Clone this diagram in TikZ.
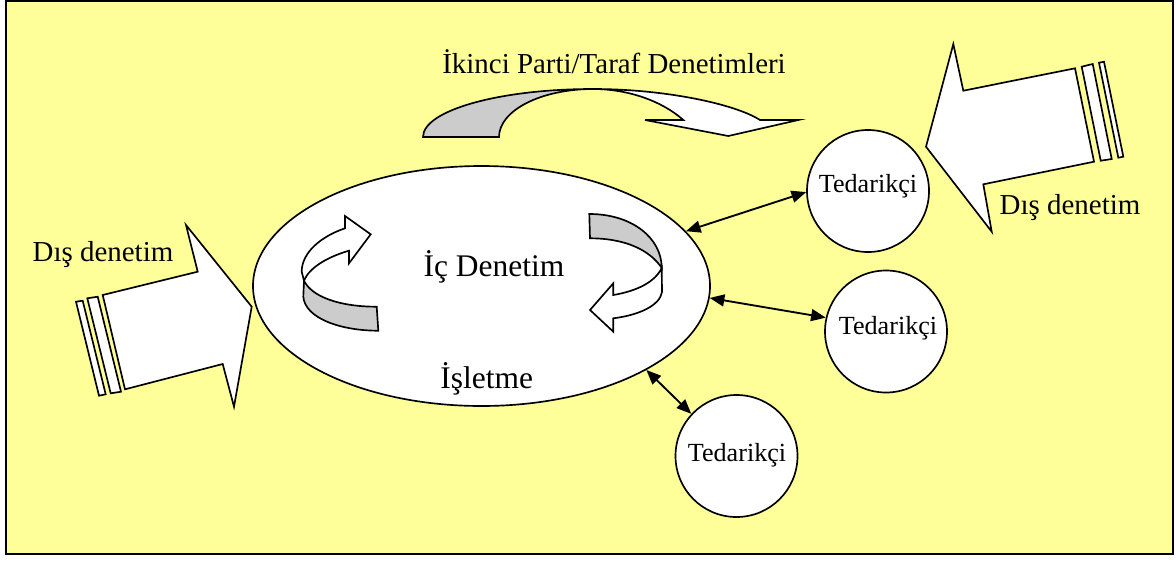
\documentclass[tikz,border=0pt]{standalone}
\usepackage{fontspec}
\setmainfont{Liberation Serif}
\usetikzlibrary{shapes.geometric,arrows.meta}
\definecolor{paper}{HTML}{FFFF99}
\definecolor{band}{HTML}{CCCCCC}
\newdimen\px \px=0.75pt
\begin{document}
\begin{tikzpicture}[x=0.75pt,y=-0.75pt,
  outl/.style={draw=black, line width=1.25pt, line join=miter},
  face/.style={outl, fill=white},
  back/.style={outl, fill=band},
  supplier/.style={circle, draw, line width=1.25pt, fill=white, minimum size=122\px, inner sep=0pt},
  link/.style={{Triangle[length=11pt,width=9pt]}-{Triangle[length=11pt,width=9pt]}, line width=1.4pt},
  lbl/.style={anchor=base, inner sep=0pt},
  big/.style={lbl, font=\fontsize{23.6}{28}\selectfont},
  mid/.style={lbl, font=\fontsize{21.7}{26}\selectfont},
  small/.style={lbl, font=\fontsize{19.6}{24}\selectfont}]
\useasboundingbox (0,0) rectangle (1176,561);

% frame
\draw[line width=1.5pt, fill=paper] (6,1) rectangle (1173,554);

% second-party audit: curved band arrow
\draw[back] (423,137) .. controls (423,110.5) and (499,89) .. (593,89)
  .. controls (541,89) and (499,110.5) .. (499,137) -- cycle;
\draw[face] (593,89) .. controls (665,89) and (735,104) .. (760,120)
  -- (798.3,120) -- (728.3,136) -- (645,120) -- (683.3,120)
  .. controls (662,101) and (628,89) .. (593,89) -- cycle;
\node[mid] (ikinci) at (614,73) {İkinci Parti/Taraf Denetimleri};

% external audit, left block arrow
\draw[face] (102.7,295) -- (197.7,271.7) -- (186,225) -- (251.7,306.7)
  -- (234,406.7) -- (222.7,364) -- (125,389.3) -- cycle;
\draw[face] (87.3,298.3) -- (97.7,296.7) -- (121,391.7) -- (110.7,393.3) -- cycle;
\draw[face] (76,301.7) -- (82.7,300.7) -- (105.7,394.3) -- (99,395.7) -- cycle;
\node[mid] (disL) at (103,261) {Dış denetim};

% external audit, right block arrow
\draw[face] (1075,68.3) -- (963.3,90.7) -- (953.3,44) -- (926,146.7)
  -- (991.7,231.7) -- (983.3,184.3) -- (1094,161.7) -- cycle;
\draw[face] (1081.7,66.7) -- (1092.7,64) -- (1111.7,159) -- (1100.7,160.7) -- cycle;
\draw[face] (1099,62.7) -- (1104,61.7) -- (1123.3,156.7) -- (1118.3,157.7) -- cycle;
\node[mid] (disR) at (1070,214) {Dış denetim};

% the company
\node[ellipse, draw, fill=white, line width=1.25pt, minimum width=457\px,
  minimum height=240\px, inner sep=0pt] (isletme) at (481.5,286) {};

% internal audit: left curl
\draw[back] (303.3,296.7) .. controls (305,318) and (340,330.7) .. (378.3,330.7)
  -- (376.7,306.7) .. controls (340,306.7) and (312,297) .. (304,280.7) -- cycle;
\draw[face] (301.7,271.7) .. controls (301.7,252) and (322,236) .. (345,228.3)
  -- (345,216) -- (370.7,234.3) -- (349,263.3) -- (349,250.7)
  .. controls (327,257) and (309,268) .. (304,280.7) -- cycle;

% internal audit: right curl
\draw[back] (589.3,214) .. controls (632,214) and (661.7,238) .. (661.7,268)
  .. controls (650,250) and (625,238.3) .. (590,238.3) -- cycle;
\draw[face] (661.7,268) -- (662,292) .. controls (660,305) and (640,315) .. (613.3,318.3)
  -- (613.3,331.7) -- (590,310) -- (613.3,283.3) -- (613.3,295)
  .. controls (637,291) and (655,282) .. (661.7,268) -- cycle;

\node[big] (ic) at (494,276.7) {İç Denetim};
\node[big] (isl) at (486.7,388) {İşletme};

% suppliers
\node[supplier] (t1) at (868,191) {};
\node[supplier] (t2) at (886,331.5) {};
\node[supplier] (t3) at (736.5,456) {};
\node[small] (l1) at (868,192) {Tedarikçi};
\node[small] (l2) at (888,334) {Tedarikçi};
\node[small] (l3) at (737,461) {Tedarikçi};

% links between the company and its suppliers
\draw[link] (isletme.15) -- (t1.181);
\draw[link] (isletme.-3) -- (t2.167);
\draw[link] (isletme.-27) -- (t3.137);
\end{tikzpicture}
\end{document}
